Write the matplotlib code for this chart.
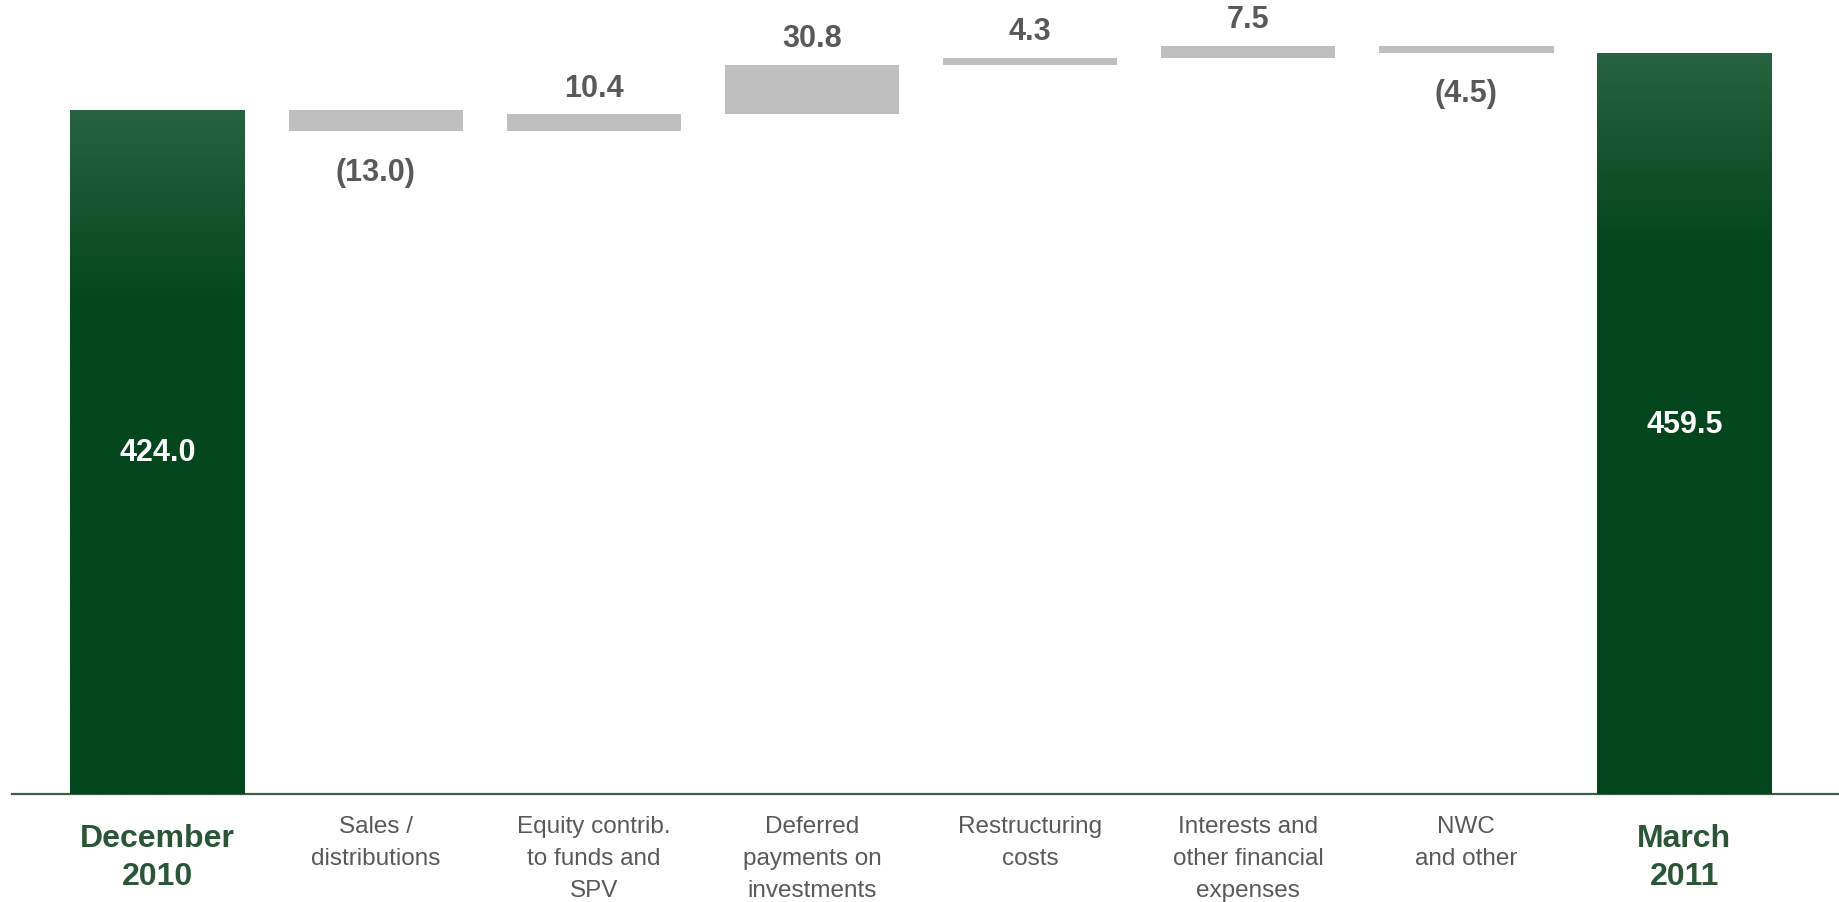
import numpy as np
import matplotlib
matplotlib.use("Agg")
import matplotlib.pyplot as plt
from matplotlib.transforms import blended_transform_factory

plt.rcParams['font.family'] = ['Liberation Sans', 'DejaVu Sans']

# data
categories = ["December\n2010", "Sales /\ndistributions", "Equity contrib.\nto funds and\nSPV",
              "Deferred\npayments on\ninvestments", "Restructuring\ncosts",
              "Interests and\nother financial\nexpenses", "NWC\nand other", "March\n2011"]
start_value = 424.0
changes = [-13.0, 10.4, 30.8, 4.3, 7.5, -4.5]
end_value = 459.5
change_labels = ["(13.0)", "10.4", "30.8", "4.3", "7.5", "(4.5)"]

green_top = np.array([0x27, 0x63, 0x40]) / 255
green_dark = np.array([0x03, 0x46, 0x1d]) / 255
grey = "#bfbfbf"
text_grey = "#595959"
label_green = "#2b5636"

fig = plt.figure(figsize=(18.39, 9.03), dpi=100)
ax = fig.add_axes([0.0065, 0.1196, 0.9935, 0.8804])
ax.set_xlim(-0.668, 7.709)
ax.set_ylim(0, 493)
width = 0.80


def green_bar(x, top):
    bar = ax.bar(x, top, width=width, color=green_dark, zorder=2)[0]
    n = 400
    y = np.linspace(top, 0, n)
    t = np.clip((top - y) / 120.0, 0, 1)[:, None]
    cols = green_top * (1 - t) + green_dark * t
    img = ax.imshow(cols[:, None, :], extent=[x - width / 2, x + width / 2, 0, top],
                    aspect='auto', zorder=3, interpolation='bilinear')
    img.set_clip_path(bar)
    ax.text(x, top / 2, f"{top:.1f}", ha='center', va='center', color='white',
            fontsize=22, fontweight='bold', zorder=4)


green_bar(0, start_value)

level = start_value
for i, (d, lab) in enumerate(zip(changes, change_labels), start=1):
    bottom = level if d > 0 else level + d
    ax.bar(i, abs(d), bottom=bottom, width=width, color=grey, zorder=2)
    if d > 0:
        ax.annotate(lab, (i, level + d), xytext=(0, 19), textcoords='offset points',
                    ha='center', va='center', fontsize=22, fontweight='bold', color=text_grey)
    else:
        ax.annotate(lab, (i, level + d), xytext=(0, -29), textcoords='offset points',
                    ha='center', va='center', fontsize=22, fontweight='bold', color=text_grey)
    level += d

green_bar(7, end_value)

for s in ['top', 'right', 'left']:
    ax.spines[s].set_visible(False)
ax.spines['bottom'].set_color('#3d5d46')
ax.spines['bottom'].set_linewidth(1.6)
ax.set_xticks([])
ax.set_yticks([])

trans = blended_transform_factory(ax.transData, ax.transAxes)
for i, cat in enumerate(categories):
    if i in (0, len(categories) - 1):
        ax.text(i, -0.037, cat, transform=trans, ha='center', va='top', fontsize=23,
                fontweight='bold', color=label_green, linespacing=1.32)
    else:
        ax.text(i, -0.027, cat, transform=trans, ha='center', va='top', fontsize=17.5,
                color=text_grey, linespacing=1.57)

fig.savefig("out.png", dpi=100)
